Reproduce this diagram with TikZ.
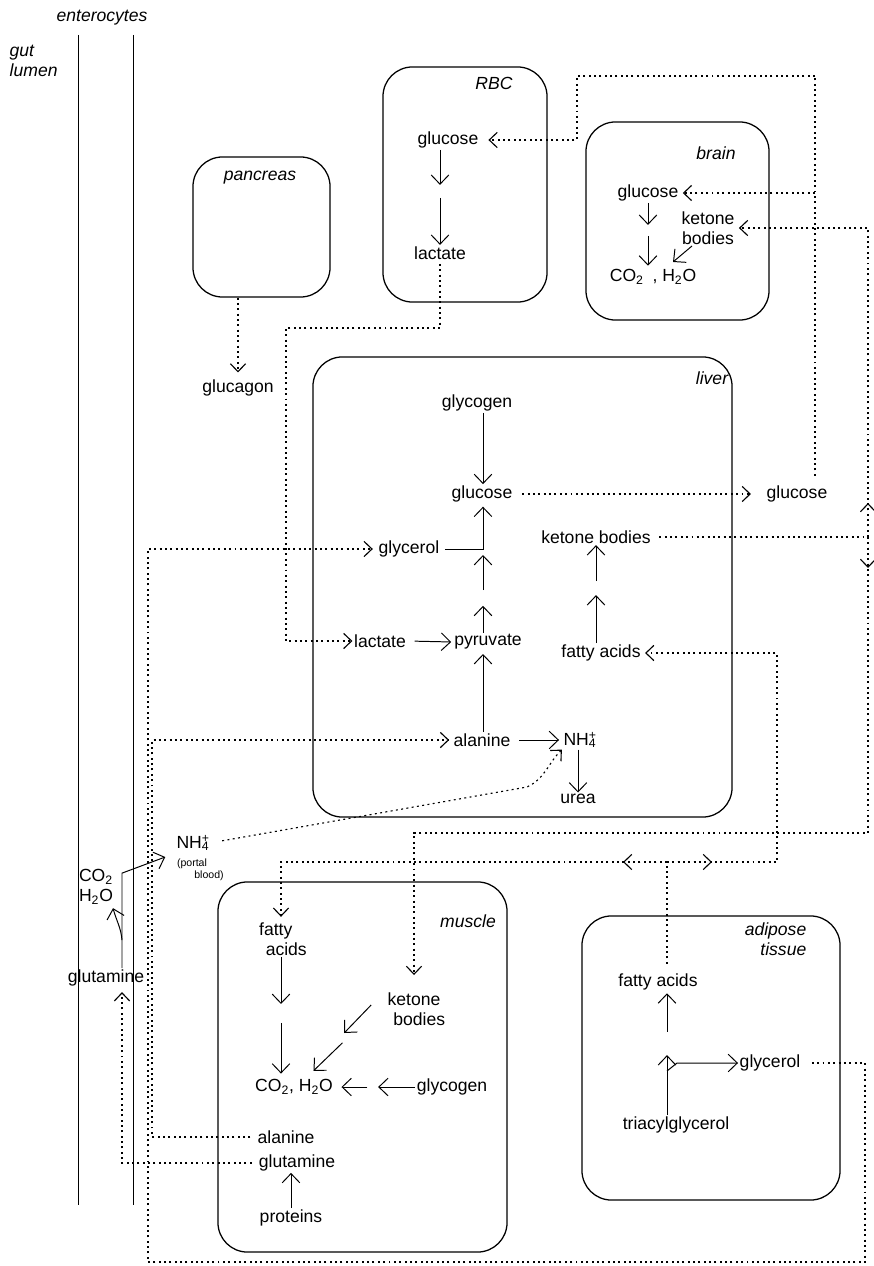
\documentclass[tikz,border=0pt]{standalone}
\usepackage{fontspec}
\setmainfont{Liberation Sans}
\usetikzlibrary{arrows.meta,positioning}
\newcommand{\nhfour}{NH\rlap{\textsuperscript{+}}\textsubscript{4}}
\tikzset{
  met/organ/.style={
    draw,
    line width=0.9pt,
    rounded corners=21pt,
    inner sep=0pt
  },
  met/txt/.style={font=\fontsize{12.5}{14}\selectfont, inner sep=1pt, align=center},
  met/name/.style={font=\fontsize{12.5}{14}\selectfont\itshape, inner sep=1pt},
  met/small/.style={font=\fontsize{7.5}{8}\selectfont, inner sep=0pt},
  met/wall/.style={line width=0.7pt},
  met/arrow/.style={-{Straight Barb[length=2.3mm,width=4.4mm]}, line width=0.7pt},
  met/dotline/.style={line width=0.8pt, dash pattern=on 1.4pt off 2.4pt},
  met/dotarrow/.style={met/dotline, -{Straight Barb[length=2mm,width=3.8mm]}}
}

\begin{document}
\begin{tikzpicture}[x=0.025cm,y=-0.025cm]
  \useasboundingbox (0,0) rectangle (873,1266);

  \node[met/organ,minimum width=3.425cm,minimum height=3.5cm] (pancreas) at (261.5,227) {};
  \node[met/organ,minimum width=4.1cm,minimum height=5.875cm] (rbc) at (465,184.5) {};
  \node[met/organ,minimum width=4.575cm,minimum height=4.95cm] (brain) at (677.5,221) {};
  \node[met/organ,minimum width=10.475cm,minimum height=11.5cm] (liver) at (522.5,587) {};
  \node[met/organ,minimum width=7.225cm,minimum height=9.25cm] (muscle) at (362.5,1067) {};
  \node[met/organ,minimum width=6.45cm,minimum height=7.1cm] (adipose) at (711,1058) {};

  \node[met/name] (entLbl) at (102,18) {enterocytes};
  \node[met/name,align=left,anchor=west] (gutLbl) at (8,61) {gut\\lumen};
  \node[met/name] (pancLbl) at (260,178) {pancreas};
  \node[met/name] (rbcLbl) at (494,83) {RBC};
  \node[met/name] (brainLbl) at (716,153) {brain};
  \node[met/name] (liverLbl) at (712,378) {liver};
  \node[met/name] (muscleLbl) at (468,921) {muscle};
  \node[met/name,align=right,anchor=east] (adipLbl) at (808,939) {adipose\\tissue};

  \draw[met/wall] (78,35) -- (78,1205);
  \draw[met/wall] (133,35) -- (133,1205);

  \node[met/txt] (glucagon) at (238,388) {glucagon};
  \node[met/txt] (rbcGlc) at (448,140) {glucose};
  \node[met/txt] (rbcLac) at (440,253) {lactate};
  \node[met/txt] (brGlc) at (648,193) {glucose};
  \node[met/txt] (brKet) at (708,228) {ketone\\bodies};
  \node[met/txt] (brCO) at (653,277) {CO\textsubscript{2}\hspace{0.5em}, H\textsubscript{2}O};

  \node[met/txt] (livGlyc) at (477,403) {glycogen};
  \node[met/txt] (livGlc) at (482,494) {glucose};
  \node[met/txt] (livGlyl) at (409,549) {glycerol};
  \node[met/txt] (livLac) at (380,641) {lactate};
  \node[met/txt] (livPyr) at (488,642) {pyruvate};
  \node[met/txt] (livKet) at (596,537) {ketone bodies};
  \node[met/txt] (livFa) at (601,653) {fatty acids};
  \node[met/txt] (livAla) at (482,740) {alanine};
  \node[met/txt] (livNH) at (580,740) {\nhfour};
  \node[met/txt] (livUrea) at (578,799) {urea};
  \node[met/txt] (outGlc) at (797,494) {glucose};

  \node[met/txt] (entGln) at (106,978) {glutamine};
  \node[met/txt,align=left] (entCO) at (96,887) {CO\textsubscript{2}\\H\textsubscript{2}O};
  \node[met/txt,inner sep=0pt] (portNH) at (193,843) {\nhfour};
  \node[met/small] (portLbl) at (192,864) {(portal};
  \node[met/small] (bloodLbl) at (209,876) {blood)};

  \node[met/txt] (musFa) at (281,939) {fatty\hspace*{0.6em}\\\hspace*{0.6em}acids};
  \node[met/txt] (musKet) at (414,1009) {ketone\\\hspace*{0.6em}bodies};
  \node[met/txt] (musCO) at (294,1087) {CO\textsubscript{2}, H\textsubscript{2}O};
  \node[met/txt] (musGlyc) at (452,1087) {glycogen};
  \node[met/txt] (musAla) at (286,1137) {alanine};
  \node[met/txt] (musGln) at (297,1163) {glutamine};
  \node[met/txt] (musProt) at (291,1218) {proteins};

  \node[met/txt] (adFa) at (658,982) {fatty acids};
  \node[met/txt] (adGlyl) at (770,1063) {glycerol};
  \node[met/txt] (adTag) at (676,1125) {triacylglycerol};

  \coordinate (glcTop) at (815,76);
  \coordinate (ketTop) at (868,228);
  \coordinate (ketLow) at (868,833);
  \coordinate (faJoin) at (667,862);
  \coordinate (gnJoin) at (483,549);
  \coordinate (tagJoin) at (667,1071);

  \draw[met/arrow] (rbcGlc.south -| rbcLac) -- ++(0,35);
  \draw[met/arrow] (rbcLac.north) ++(0,-47) -- (rbcLac.north);
  \draw[met/arrow] (brGlc.south) -- ++(0,22);
  \draw[met/arrow,shorten >=1.5pt] (brCO.north -| brGlc) ++(0,-32) -- (brCO.north -| brGlc);
  \draw[met/arrow] (brKet.south) ++(-16,0) -- ++(-19,16);

  \draw[met/arrow] (livGlyc.south -| gnJoin) -- (livGlc.north -| gnJoin);
  \draw[met/arrow,shorten >=2pt] (livGlyl.east) ++(4,0) -| (livGlc.south -| gnJoin);
  \draw[met/arrow] (gnJoin) ++(0,41) -- ++(0,-35);
  \draw[met/arrow] (livPyr.north -| gnJoin) -- ++(0,-27);
  \draw[met/arrow,shorten >=2pt] (livAla.north -| gnJoin) -- (livPyr.south -| gnJoin);
  \draw[met/arrow,shorten <=5pt,shorten >=1pt] (livLac.east) -- (livPyr.west);
  \draw[met/arrow,shorten <=5pt,shorten >=2pt] (livAla.east) -- (livNH.west);
  \draw[met/arrow] (livNH.south -| livUrea) -- (livUrea.north);
  \draw[met/arrow] (livFa.north -| livKet) -- ++(0,-48);
  \draw[met/arrow] (livKet.south) ++(0,36) -- (livKet.south);

  \draw[met/arrow] ([xshift=0.4cm]entGln.north) -- ++(0,-95) -- ([shift={(-11,14)}]portNH.west);
  \draw[met/arrow] ([xshift=0.4cm]entGln.north) ++(0,-28) to[out=95,in=-75] ++(-9,-32);

  \draw[met/arrow] (musFa.south) -- ++(0,47);
  \draw[met/arrow,shorten >=3pt] (musCO.north -| musFa) ++(0,-55) -- (musCO.north -| musFa);
  \draw[met/arrow] (musKet.west) ++(-10,-4) -- ++(-27,28);
  \draw[met/arrow] (musCO.north east) ++(8,-35) -- ++(-29,28);
  \draw[met/arrow] (musGlyc.west) -- ++(-37,0);
  \draw[met/arrow] (musCO.east) ++(33,0) -- ++(-26,0);
  \draw[met/arrow] (musProt.north) -- (musGln.south -| musProt);

  \draw[met/arrow] (tagJoin |- adTag.north) -- ++(0,-60);
  \draw[met/arrow,shorten >=1pt] (adFa.south -| tagJoin) ++(0,40) -- (adFa.south -| tagJoin);
  \draw[met/arrow] (tagJoin) -- ++(10,-8) -- (adGlyl.west);

  \draw[met/dotarrow,shorten >=4pt] (pancreas.south -| glucagon) -- (glucagon.north);
  \draw[met/dotarrow,shorten <=2pt] (rbcLac.south) |- (286,328) |- (livLac.west);
  \draw[met/dotarrow,shorten <=6pt,shorten >=10pt] (livGlc.east) -- (outGlc.west |- livGlc);
  \draw[met/dotline,shorten <=6pt] (glcTop |- outGlc.north) -- (glcTop);
  \draw[met/dotarrow,shorten >=6pt] (glcTop) -| (577,140) -- (rbcGlc.east);
  \draw[met/dotarrow,shorten >=2pt] (glcTop |- brGlc) -- (brGlc.east);

  \draw[met/dotline,shorten <=5pt] (livKet.east) -- (ketTop |- livKet);
  \draw[met/dotarrow] (ketTop |- livKet) -- ++(0,-34);
  \draw[met/dotarrow] (ketTop |- livKet) -- ++(0,31);
  \draw[met/dotarrow,shorten >=2pt] (ketTop |- livKet) -- (ketTop) -- (brKet.east);
  \draw[met/dotarrow,shorten >=0.4cm] (ketTop |- livKet) -- (ketLow) -| (musKet.north);

  \draw[met/dotline,shorten <=6pt] (faJoin |- adFa.north) -- (faJoin);
  \draw[met/dotarrow] (faJoin) -- ++(-44,0);
  \draw[met/dotarrow] (faJoin) -- ++(45,0);
  \draw[met/dotarrow,shorten >=3pt] (faJoin) -| (musFa.north);
  \draw[met/dotarrow,shorten >=2pt] (faJoin) -| (777,653) -- (livFa.east);

  \draw[met/dotarrow,shorten <=7pt,shorten >=3pt] (adGlyl.east) -| (865,1262) -| (148,549) -- (livGlyl.west);
  \draw[met/dotarrow,shorten <=4pt,shorten >=2pt] (musAla.west) -| (152,740) -- (livAla.west);
  \draw[met/dotarrow,shorten <=4pt,shorten >=3pt] (musGln.west) -| ([xshift=0.4cm]entGln.south);
  \draw[met/dotarrow,shorten <=9pt] (portNH.east) -- (527,787) to[out=25,in=225] (livNH.south west);
\end{tikzpicture}
\end{document}
